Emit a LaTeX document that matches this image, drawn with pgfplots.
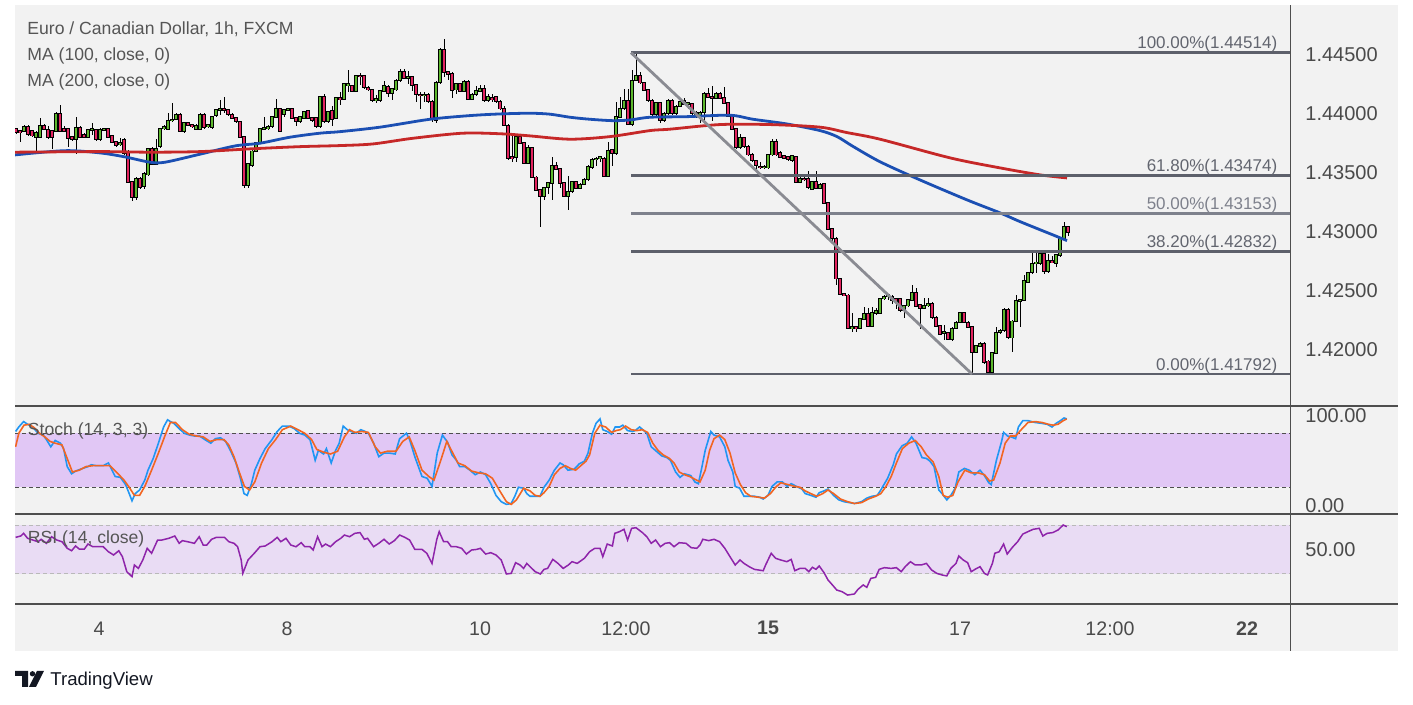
\documentclass[border=0pt]{standalone}
\usepackage{fontspec}
\setmainfont{Liberation Sans}
\usepackage{pgfplots}
\usepackage{pgfplotstable}
\pgfplotsset{compat=1.18}
\definecolor{chartbg}{HTML}{F2F2F2}
\definecolor{sepcol}{HTML}{4E4E4E}
\definecolor{labelgray}{HTML}{4A4A4A}
\definecolor{legendgray}{HTML}{555555}
\definecolor{candleup}{HTML}{5DB82E}
\definecolor{candledn}{HTML}{E2245F}
\definecolor{maone}{HTML}{1B4FB3}
\definecolor{matwo}{HTML}{C62828}
\definecolor{fibdark}{HTML}{5D606B}
\definecolor{fibmid}{HTML}{7E818C}
\definecolor{fibtext}{HTML}{62656F}
\definecolor{diagcol}{HTML}{8A8B92}
\definecolor{stochK}{HTML}{2196F3}
\definecolor{stochD}{HTML}{F26522}
\definecolor{stochband}{HTML}{E1C7F5}
\definecolor{rsiband}{HTML}{E9DCF4}
\definecolor{rsicol}{HTML}{8E24AA}
\definecolor{logocol}{HTML}{131722}

\pgfplotstableread{
i o h l c
0 1.4387 1.4388 1.4383 1.4384
1 1.4385 1.4386 1.4376 1.4384
2 1.4385 1.4390 1.4384 1.4389
3 1.4389 1.4390 1.4381 1.4382
4 1.4385 1.4386 1.4380 1.4381
5 1.4380 1.4385 1.4368 1.4384
6 1.4380 1.4396 1.4379 1.4390
7 1.4390 1.4391 1.4386 1.4387
8 1.4386 1.4389 1.4378 1.4380
9 1.4385 1.4386 1.4370 1.4380
10 1.4385 1.4401 1.4384 1.4400
11 1.4400 1.4407 1.4384 1.4385
12 1.4387 1.4389 1.4384 1.4385
13 1.4387 1.4388 1.4372 1.4379
14 1.4380 1.4381 1.4377 1.4378
15 1.4378 1.4397 1.4366 1.4388
16 1.4388 1.4389 1.4379 1.4380
17 1.4382 1.4383 1.4379 1.4380
18 1.4380 1.4387 1.4379 1.4386
19 1.4386 1.4392 1.4382 1.4387
20 1.4386 1.4387 1.4377 1.4378
21 1.4378 1.4388 1.4377 1.4386
22 1.4386 1.4388 1.4385 1.4387
23 1.4387 1.4388 1.4379 1.4380
24 1.4381 1.4382 1.4375 1.4376
25 1.4376 1.4377 1.4372 1.4373
26 1.4374 1.4379 1.4372 1.4375
27 1.4378 1.4379 1.4365 1.4366
28 1.4368 1.4369 1.4341 1.4342
29 1.4342 1.4343 1.4326 1.4329
30 1.4329 1.4346 1.4327 1.4345
31 1.4345 1.4346 1.4336 1.4337
32 1.4338 1.4350 1.4336 1.4349
33 1.4348 1.4371 1.4347 1.4370
34 1.4370 1.4372 1.4356 1.4357
35 1.4357 1.4378 1.4356 1.4370
36 1.4372 1.4388 1.4371 1.4387
37 1.4387 1.4390 1.4386 1.4389
38 1.4387 1.4400 1.4386 1.4394
39 1.4394 1.4409 1.4393 1.4395
40 1.4395 1.4400 1.4394 1.4399
41 1.4399 1.4400 1.4384 1.4385
42 1.4385 1.4393 1.4383 1.4392
43 1.4392 1.4393 1.4389 1.4390
44 1.4390 1.4391 1.4388 1.4389
45 1.4387 1.4391 1.4386 1.4390
46 1.4387 1.4400 1.4386 1.4399
47 1.4399 1.4400 1.4387 1.4388
48 1.4389 1.4391 1.4388 1.4390
49 1.4388 1.4398 1.4387 1.4397
50 1.4398 1.4404 1.4397 1.4403
51 1.4403 1.4411 1.4399 1.4404
52 1.4404 1.4414 1.4400 1.4403
53 1.4403 1.4404 1.4398 1.4399
54 1.4399 1.4400 1.4395 1.4396
55 1.4396 1.4397 1.4392 1.4393
56 1.4393 1.4394 1.4379 1.4380
57 1.4380 1.4381 1.4337 1.4339
58 1.4339 1.4358 1.4337 1.4357
59 1.4356 1.4369 1.4355 1.4368
60 1.4368 1.4376 1.4367 1.4375
61 1.4375 1.4388 1.4374 1.4387
62 1.4387 1.4397 1.4386 1.4388
63 1.4387 1.4390 1.4386 1.4389
64 1.4389 1.4398 1.4388 1.4397
65 1.4397 1.4412 1.4396 1.4404
66 1.4404 1.4405 1.4384 1.4385
67 1.4399 1.4404 1.4397 1.4403
68 1.4403 1.4405 1.4402 1.4404
69 1.4404 1.4405 1.4395 1.4396
70 1.4396 1.4397 1.4389 1.4393
71 1.4393 1.4398 1.4392 1.4397
72 1.4396 1.4402 1.4395 1.4401
73 1.4402 1.4403 1.4395 1.4396
74 1.4396 1.4397 1.4393 1.4394
75 1.4396 1.4397 1.4388 1.4389
76 1.4389 1.4415 1.4388 1.4414
77 1.4414 1.4416 1.4392 1.4393
78 1.4393 1.4402 1.4392 1.4401
79 1.4402 1.4406 1.4389 1.4395
80 1.4396 1.4414 1.4395 1.4413
81 1.4413 1.4418 1.4407 1.4412
82 1.4412 1.4426 1.4411 1.4425
83 1.4424 1.4437 1.4418 1.4425
84 1.4423 1.4424 1.4418 1.4419
85 1.4419 1.4433 1.4418 1.4432
86 1.4432 1.4434 1.4424 1.4431
87 1.4432 1.4433 1.4421 1.4422
88 1.4422 1.4423 1.4419 1.4420
89 1.4420 1.4421 1.4410 1.4411
90 1.4411 1.4416 1.4409 1.4412
91 1.4411 1.4420 1.4410 1.4419
92 1.4419 1.4427 1.4418 1.4423
93 1.4423 1.4424 1.4414 1.4417
94 1.4417 1.4422 1.4411 1.4421
95 1.4420 1.4429 1.4419 1.4428
96 1.4428 1.4438 1.4427 1.4435
97 1.4435 1.4438 1.4429 1.4430
98 1.4430 1.4436 1.4425 1.4431
99 1.4431 1.4432 1.4419 1.4424
100 1.4424 1.4425 1.4410 1.4416
101 1.4416 1.4418 1.4404 1.4415
102 1.4415 1.4418 1.4410 1.4416
103 1.4416 1.4417 1.4409 1.4410
104 1.4410 1.4411 1.4393 1.4395
105 1.4394 1.4427 1.4392 1.4426
106 1.4426 1.4455 1.4425 1.4454
107 1.4454 1.4463 1.4431 1.4435
108 1.4435 1.4436 1.4428 1.4433
109 1.4434 1.4435 1.4413 1.4420
110 1.4420 1.4426 1.4416 1.4425
111 1.4425 1.4426 1.4418 1.4419
112 1.4419 1.4428 1.4418 1.4427
113 1.4427 1.4428 1.4411 1.4412
114 1.4412 1.4417 1.4411 1.4416
115 1.4416 1.4423 1.4415 1.4419
116 1.4419 1.4424 1.4418 1.4421
117 1.4421 1.4424 1.4410 1.4411
118 1.4411 1.4416 1.4410 1.4414
119 1.4413 1.4416 1.4410 1.4412
120 1.4414 1.4415 1.4409 1.4410
121 1.4410 1.4411 1.4403 1.4404
122 1.4404 1.4406 1.4389 1.4390
123 1.4390 1.4391 1.4361 1.4362
124 1.4363 1.4383 1.4359 1.4362
125 1.4363 1.4381 1.4359 1.4380
126 1.4380 1.4383 1.4374 1.4375
127 1.4375 1.4376 1.4357 1.4358
128 1.4358 1.4373 1.4357 1.4371
129 1.4371 1.4372 1.4345 1.4346
130 1.4346 1.4347 1.4334 1.4335
131 1.4335 1.4336 1.4304 1.4330
132 1.4330 1.4338 1.4327 1.4337
133 1.4337 1.4342 1.4332 1.4341
134 1.4341 1.4363 1.4327 1.4356
135 1.4356 1.4359 1.4352 1.4353
136 1.4353 1.4354 1.4337 1.4341
137 1.4341 1.4342 1.4329 1.4330
138 1.4330 1.4347 1.4318 1.4334
139 1.4334 1.4343 1.4333 1.4342
140 1.4342 1.4343 1.4336 1.4337
141 1.4337 1.4341 1.4336 1.4340
142 1.4340 1.4345 1.4339 1.4344
143 1.4344 1.4356 1.4343 1.4355
144 1.4354 1.4362 1.4353 1.4361
145 1.4361 1.4363 1.4355 1.4362
146 1.4362 1.4364 1.4359 1.4363
147 1.4362 1.4363 1.4346 1.4347
148 1.4347 1.4376 1.4346 1.4368
149 1.4369 1.4370 1.4355 1.4366
150 1.4366 1.4410 1.4365 1.4397
151 1.4397 1.4414 1.4396 1.4404
152 1.4404 1.4421 1.4403 1.4411
153 1.4411 1.4421 1.4390 1.4391
154 1.4391 1.4437 1.4389 1.4428
155 1.4428 1.4451 1.4427 1.4432
156 1.4432 1.4435 1.4425 1.4426
157 1.4426 1.4427 1.4419 1.4420
158 1.4420 1.4421 1.4410 1.4411
159 1.4411 1.4412 1.4398 1.4399
160 1.4399 1.4410 1.4398 1.4409
161 1.4409 1.4410 1.4392 1.4394
162 1.4394 1.4401 1.4393 1.4400
163 1.4400 1.4412 1.4399 1.4411
164 1.4411 1.4412 1.4399 1.4400
165 1.4400 1.4407 1.4399 1.4406
166 1.4406 1.4411 1.4405 1.4410
167 1.4411 1.4413 1.4407 1.4408
168 1.4408 1.4409 1.4404 1.4409
169 1.4408 1.4409 1.4399 1.4400
170 1.4401 1.4402 1.4396 1.4398
171 1.4398 1.4402 1.4392 1.4401
172 1.4401 1.4418 1.4394 1.4417
173 1.4417 1.4422 1.4413 1.4414
174 1.4414 1.4423 1.4394 1.4413
175 1.4413 1.4418 1.4412 1.4417
176 1.4417 1.4418 1.4412 1.4413
177 1.4413 1.4422 1.4408 1.4409
178 1.4409 1.4410 1.4397 1.4398
179 1.4398 1.4399 1.4386 1.4387
180 1.4387 1.4388 1.4370 1.4371
181 1.4371 1.4383 1.4370 1.4379
182 1.4379 1.4380 1.4371 1.4372
183 1.4372 1.4373 1.4364 1.4365
184 1.4365 1.4366 1.4359 1.4360
185 1.4360 1.4361 1.4352 1.4356
186 1.4355 1.4359 1.4353 1.4354
187 1.4354 1.4356 1.4353 1.4355
188 1.4354 1.4366 1.4353 1.4365
189 1.4365 1.4378 1.4364 1.4376
190 1.4376 1.4378 1.4364 1.4365
191 1.4367 1.4368 1.4362 1.4363
192 1.4364 1.4365 1.4361 1.4362
193 1.4363 1.4364 1.4360 1.4361
194 1.4360 1.4365 1.4359 1.4364
195 1.4363 1.4364 1.4341 1.4342
196 1.4342 1.4346 1.4341 1.4345
197 1.4345 1.4346 1.4343 1.4344
198 1.4345 1.4351 1.4336 1.4337
199 1.4336 1.4343 1.4335 1.4342
200 1.4342 1.4351 1.4336 1.4337
201 1.4337 1.4341 1.4336 1.4340
202 1.4340 1.4341 1.4323 1.4324
203 1.4324 1.4325 1.4301 1.4302
204 1.4302 1.4303 1.4292 1.4294
205 1.4294 1.4295 1.4255 1.4260
206 1.4260 1.4261 1.4246 1.4247
207 1.4247 1.4248 1.4245 1.4246
208 1.4246 1.4247 1.4217 1.4218
209 1.4218 1.4231 1.4215 1.4219
210 1.4219 1.4220 1.4215 1.4218
211 1.4218 1.4227 1.4217 1.4226
212 1.4226 1.4236 1.4225 1.4230
213 1.4230 1.4235 1.4219 1.4220
214 1.4220 1.4236 1.4219 1.4231
215 1.4231 1.4235 1.4229 1.4233
216 1.4231 1.4244 1.4230 1.4243
217 1.4243 1.4246 1.4242 1.4245
218 1.4245 1.4247 1.4242 1.4246
219 1.4245 1.4246 1.4239 1.4242
220 1.4243 1.4244 1.4234 1.4241
221 1.4243 1.4244 1.4232 1.4233
222 1.4233 1.4238 1.4227 1.4237
223 1.4237 1.4243 1.4236 1.4242
224 1.4242 1.4255 1.4241 1.4248
225 1.4248 1.4252 1.4236 1.4237
226 1.4238 1.4239 1.4217 1.4235
227 1.4235 1.4244 1.4234 1.4237
228 1.4237 1.4244 1.4236 1.4239
229 1.4239 1.4240 1.4226 1.4227
230 1.4227 1.4228 1.4219 1.4220
231 1.4220 1.4221 1.4212 1.4213
232 1.4214 1.4221 1.4208 1.4215
233 1.4214 1.4215 1.4208 1.4209
234 1.4209 1.4219 1.4207 1.4218
235 1.4218 1.4224 1.4217 1.4223
236 1.4223 1.4232 1.4222 1.4231
237 1.4231 1.4232 1.4222 1.4223
238 1.4223 1.4224 1.4218 1.4219
239 1.4219 1.4220 1.4179 1.4198
240 1.4198 1.4204 1.4197 1.4203
241 1.4203 1.4206 1.4202 1.4205
242 1.4205 1.4206 1.4188 1.4189
243 1.4190 1.4191 1.4179 1.4181
244 1.4181 1.4198 1.4180 1.4197
245 1.4197 1.4219 1.4196 1.4214
246 1.4215 1.4217 1.4213 1.4216
247 1.4216 1.4235 1.4215 1.4234
248 1.4234 1.4235 1.4209 1.4210
249 1.4210 1.4225 1.4198 1.4224
250 1.4224 1.4246 1.4223 1.4241
251 1.4241 1.4243 1.4219 1.4242
252 1.4242 1.4263 1.4241 1.4258
253 1.4257 1.4266 1.4256 1.4265
254 1.4265 1.4283 1.4264 1.4273
255 1.4273 1.4284 1.4265 1.4274
256 1.4273 1.4282 1.4272 1.4281
257 1.4281 1.4284 1.4264 1.4266
258 1.4266 1.4281 1.4265 1.4275
259 1.4275 1.4279 1.4273 1.4274
260 1.4273 1.4281 1.4270 1.4280
261 1.4280 1.4295 1.4278 1.4294
262 1.4294 1.4308 1.4293 1.4304
263 1.4304 1.4305 1.4296 1.4299
}\candles

\begin{document}
\begin{tikzpicture}
\begin{scope}[x=0.5pt,y=0.5pt]
\fill[white] (0,0) rectangle (1413,705);
\fill[chartbg] (15,54) rectangle (1398,700);
\end{scope}

% ---------------- main price pane ----------------
\begin{axis}[
  at={(7.5pt,149.5pt)}, anchor=south west, scale only axis,
  width=637.5pt, height=200.5pt,
  xmin=-0.25, xmax=318.5, ymin=1.41521, ymax=1.44918,
  axis line style={draw=none}, major tick length=0pt,
  xtick=\empty,
  ytick={1.42,1.425,1.43,1.435,1.44,1.445},
  yticklabels={1.42000,1.42500,1.43000,1.43500,1.44000,1.44500},
  yticklabel pos=right,
  yticklabel style={anchor=west, inner sep=0pt, xshift=7.5pt, font=\fontsize{10pt}{12pt}\selectfont, text=labelgray},
  candle/.style={draw=none, mark=none, forget plot, error bars/.cd, y dir=both, y explicit, error mark=none},
]
% wicks
\addplot[candle, error bar style={line width=0.5pt, draw=black, draw opacity=1}]
  table[x=i, y expr={(\thisrow{h}+\thisrow{l})/2}, y error expr={(\thisrow{h}-\thisrow{l})/2}] {\candles};
% body outlines
\addplot[candle, error bar style={line width=1.75pt, draw=black, draw opacity=1}]
  table[x=i, y expr={(\thisrow{o}+\thisrow{c})/2}, y error expr={abs(\thisrow{c}-\thisrow{o})/2+0.00006}] {\candles};
% up bodies
\addplot[draw=none, mark=none, forget plot, x filter/.expression={\thisrow{c}>=\thisrow{o} ? x : nan},
  error bars/.cd, y dir=both, y explicit, error mark=none,
  error bar style={line width=0.75pt, draw=candleup, draw opacity=1}]
  table[x=i, y expr={(\thisrow{o}+\thisrow{c})/2}, y error expr={max(abs(\thisrow{c}-\thisrow{o})/2-0.00002,0)}] {\candles};
% down bodies
\addplot[draw=none, mark=none, forget plot, x filter/.expression={\thisrow{c}<\thisrow{o} ? x : nan},
  error bars/.cd, y dir=both, y explicit, error mark=none,
  error bar style={line width=0.75pt, draw=candledn, draw opacity=1}]
  table[x=i, y expr={(\thisrow{o}+\thisrow{c})/2}, y error expr={max(abs(\thisrow{c}-\thisrow{o})/2-0.00002,0)}] {\candles};

% MA 100
\addplot[smooth, line width=1.4pt, maone] coordinates {
(-0.25,1.43648) (12.25,1.43684) (21,1.43665) (27.25,1.43631) (33.5,1.43586) (37.25,1.43586)
(46,1.43654) (54.75,1.43724) (61,1.43747) (68.5,1.43798) (76,1.43832) (81,1.43845)
(91,1.43883) (103.5,1.43950) (113.5,1.43981) (121,1.43995) (128.5,1.44001) (133.5,1.43993)
(138.5,1.43967) (143.5,1.43950) (149.25,1.43938) (153.5,1.43944) (158.5,1.43967) (167.75,1.43972)
(178.5,1.43984) (184.25,1.43950) (192.75,1.43910) (201,1.43854) (205.25,1.43803) (209.25,1.43720)
(216,1.43590) (226,1.43436) (237.75,1.43267) (246,1.43157) (251,1.43083) (259.25,1.42970) (262.75,1.42922)};
% MA 200
\addplot[smooth, line width=1.4pt, matwo] coordinates {
(-0.25,1.43671) (21,1.43676) (33.5,1.43671) (46,1.43676) (58.5,1.43699) (71,1.43718)
(81,1.43727) (89.25,1.43741) (99.25,1.43789) (111.75,1.43832) (121.75,1.43826) (128.5,1.43809)
(138.5,1.43781) (148.5,1.43803) (158.5,1.43854) (163.5,1.43866) (176,1.43905) (188.5,1.43905)
(201,1.43883) (207.75,1.43837) (216,1.43781) (233.5,1.43623) (246,1.43538) (256,1.43479) (262.75,1.43453)};

% Fibonacci levels
\addplot[fibdark, line width=1.35pt] coordinates {(153.75,1.44514) (318.5,1.44514)};
\addplot[fibdark, line width=1.35pt] coordinates {(153.75,1.43474) (318.5,1.43474)};
\addplot[fibmid, line width=1.35pt] coordinates {(153.75,1.43153) (318.5,1.43153)};
\addplot[fibdark, line width=1.35pt] coordinates {(153.75,1.42832) (318.5,1.42832)};
\addplot[fibdark, line width=1.35pt] coordinates {(153.75,1.41792) (318.5,1.41792)};
\addplot[diagcol, line width=1.4pt] coordinates {(153.75,1.44514) (239,1.41792)};

\begin{scope}[every node/.style={anchor=base east, inner sep=0pt, yshift=1.9pt, font=\fontsize{8.5pt}{10pt}\selectfont, text=fibtext}]
\node at (axis cs:315.4,1.44514) {100.00\%(1.44514)};
\node at (axis cs:315.4,1.43474) {61.80\%(1.43474)};
\node[text=fibmid] at (axis cs:315.4,1.43153) {50.00\%(1.43153)};
\node at (axis cs:315.4,1.42832) {38.20\%(1.42832)};
\node at (axis cs:315.4,1.41792) {0.00\%(1.41792)};
\end{scope}
\end{axis}

% ---------------- stochastic pane ----------------
\begin{axis}[
  at={(7.5pt,95.5pt)}, anchor=south west, scale only axis,
  width=637.5pt, height=54pt,
  xmin=-0.25, xmax=318.5, ymin=-9.67, ymax=110.33,
  axis line style={draw=none}, major tick length=0pt,
  xtick=\empty,
  ytick={0,100}, yticklabels={0.00,100.00},
  yticklabel pos=right,
  yticklabel style={anchor=west, inner sep=0pt, xshift=7.5pt, font=\fontsize{10pt}{12pt}\selectfont, text=labelgray},
]
\addplot[draw=none, fill=stochband] coordinates {(-0.25,20) (318.5,20) (318.5,80) (-0.25,80)} -- cycle;
\addplot[sepcol, line width=0.5pt, dash pattern=on 2pt off 1.5pt] coordinates {(-0.25,80) (318.5,80)};
\addplot[sepcol, line width=0.5pt, dash pattern=on 2pt off 1.5pt] coordinates {(-0.25,20) (318.5,20)};
\addplot[stochK, line width=0.8pt] coordinates {
(-0.1,82) (0.7,87) (1.9,93) (2.9,90) (4.2,87) (5.5,80) (6.8,78) (7.6,73) (8.7,65) (9.8,72) (11.1,69) (11.9,63) (12.8,43) (13.9,35) (14.9,38) (16.7,41) (18.0,43) (18.8,45) (20.1,44) (21.8,44) (23.1,47) (24.0,39) (24.8,32) (26.1,31) (27.4,23) (28.3,13) (29.0,5) (29.8,13) (30.9,17) (32.2,28) (33.0,39) (34.3,52) (35.6,69) (36.9,87) (37.9,95) (38.6,93) (39.5,91) (40.8,85) (42.1,80) (43.4,78) (44.6,77) (45.9,77) (47.2,73) (48.7,69) (49.8,74) (51.1,75) (52.4,71) (53.7,60) (55.0,47) (56.1,30) (57.0,13) (57.8,11) (58.8,23) (59.7,39) (61.0,52) (62.3,63) (64.0,73) (65.3,82) (66.6,88) (68.3,88) (69.6,85) (70.9,80) (72.2,78) (73.5,73) (74.8,50) (75.6,61) (76.9,57) (77.6,63) (78.8,47) (79.9,61) (80.8,69) (81.8,88) (82.8,84) (83.8,82) (85.1,80) (86.2,84) (87.3,82) (88.1,80) (89.4,69) (90.7,54) (92.0,58) (93.3,58) (94.8,57) (95.9,74) (97.6,80) (98.4,73) (99.7,54) (101.5,32) (102.8,30) (104.0,21) (105.3,58) (106.6,78) (107.9,70) (109.0,56) (110.1,50) (110.9,43) (112.2,43) (113.5,39) (114.8,34) (116.1,37) (117.4,34) (118.7,24) (120.0,11) (121.3,4) (122.6,1) (123.8,2) (124.7,10) (125.6,20) (126.9,19) (127.7,13)
(128.5,10) (129.8,10) (131.0,10) (132.0,20) (133.3,28) (134.6,39) (136.0,47) (136.8,45) (138.0,39) (139.5,40) (140.8,46) (142.1,49) (143.0,58) (144.1,80) (145.0,91) (146.0,96) (146.7,84) (147.8,82) (148.9,79) (149.8,87) (150.9,87) (151.7,89) (152.9,83) (154.1,82) (154.8,83) (155.9,87) (156.7,84) (157.7,80) (158.8,65) (160.1,60) (161.4,55) (162.7,53) (163.6,50) (164.9,37) (166.0,31) (167.1,35) (168.7,33) (169.7,26) (170.6,24) (171.5,43) (172.3,61) (173.7,82) (174.5,78) (175.9,76) (177.2,65) (178.0,50) (179.2,37) (179.8,21) (180.9,19) (182.0,10) (183.3,10) (184.6,10) (185.9,9) (186.8,7) (188.0,11) (189.0,21) (190.3,26) (191.6,26) (192.8,21) (193.8,24) (195.1,21) (196.5,18) (197.3,13) (198.7,11) (200.0,9) (200.8,14) (202.0,16) (203.0,18) (204.4,11) (205.7,6) (207.0,4) (208.3,3) (209.6,2) (211.4,4) (212.7,8) (214.0,10) (215.3,11) (216.2,17) (217.9,30) (219.3,45) (220.1,57) (221.5,66) (222.8,69) (223.9,76) (225.0,69) (226.5,53) (227.6,52) (228.5,49) (229.5,43) (230.7,17) (231.5,13) (232.7,6) (233.7,11) (234.8,19) (235.7,37) (237.1,41) (238.3,39) (239.7,34) (241.0,39) (242.1,33) (243.2,25) (243.8,23) (245.1,50) (246.4,71) (246.9,81) (247.9,77) (248.8,76) (249.9,74) (250.6,87) (251.7,94) (253.0,94) (254.8,92) (256.5,91) (257.8,90) (259.0,87) (260.0,91) (261.1,94) (262.0,97) (262.7,96)};
\addplot[stochD, line width=0.8pt] coordinates {
(-0.1,65) (0.7,80) (2.0,89) (3.3,90) (4.6,86) (5.9,80) (7.2,76) (8.5,71) (9.8,69) (11.5,67) (12.8,52) (14.1,37) (15.8,39) (17.5,43) (19.2,44) (21.8,44) (23.5,44) (25.3,36) (27.0,28) (28.3,20) (29.6,11) (30.9,11) (32.2,21) (33.9,39) (35.6,58) (37.3,78) (38.6,92) (39.9,92) (41.6,84) (43.3,79) (45.1,77) (46.8,76) (48.5,71) (50.2,73) (52.0,73) (53.2,67) (54.5,54) (55.8,37) (57.1,21) (58.4,17) (59.7,26) (61.4,47) (63.1,63) (64.9,73) (66.6,84) (68.7,88) (70.5,84) (72.2,80) (73.9,73) (75.2,62) (76.9,59) (78.6,57) (80.4,60) (82.1,76) (83.4,84) (84.7,81) (86.4,82) (88.1,81) (89.8,65) (91.1,58) (92.8,60) (95.0,60) (96.7,71) (98.3,76) (99.7,61) (101.5,39) (103.2,32) (104.5,28) (106.2,50) (107.7,71) (109.2,58) (110.5,47) (112.2,44) (113.9,38) (115.7,36) (117.4,35) (119.1,30) (120.8,17) (122.6,4) (123.8,1) (125.1,6) (126.9,19)
(128.5,16) (129.8,11) (131.0,10) (132.0,14) (133.3,21) (134.6,34) (136.0,41) (137.3,44) (138.6,41) (139.9,39) (141.2,44) (142.5,49) (143.4,56) (144.7,80) (146.0,89) (147.4,87) (148.9,81) (150.0,83) (151.1,84) (152.4,88) (153.8,84) (155.2,83) (156.6,84) (157.9,81) (159.2,69) (160.5,61) (161.8,56) (163.4,52) (164.5,47) (165.8,37) (167.1,34) (168.4,32) (169.7,29) (171.0,26) (172.3,39) (173.4,61) (174.5,74) (175.9,78) (177.2,73) (178.5,58) (179.8,36) (181.1,23) (182.4,14) (183.7,10) (185.5,9) (187.1,8) (188.6,13) (189.9,20) (191.2,25) (193.0,23) (194.7,21) (196.0,20) (197.3,16) (198.7,13) (200.2,10) (201.7,13) (203.0,17) (204.4,13) (206.1,7) (207.9,4) (209.6,2) (211.4,3) (213.1,7) (214.9,10) (216.2,13) (217.5,21) (218.8,32) (220.1,47) (221.6,63) (223.2,69) (224.8,72) (226.3,65) (227.6,56) (229.3,48) (230.7,32) (231.8,11) (232.9,9) (234.2,11) (235.5,26) (237.2,39) (238.8,36) (240.6,36) (242.1,34) (243.4,27) (244.4,28) (246.0,47) (247.3,69) (248.6,77) (249.9,77) (251.3,84) (253.0,92) (254.8,93) (256.5,92) (258.1,90) (259.3,89) (260.5,90) (261.8,94) (262.7,96)};
\end{axis}

% ---------------- RSI pane ----------------
\begin{axis}[
  at={(7.5pt,50.5pt)}, anchor=south west, scale only axis,
  width=637.5pt, height=45pt,
  xmin=-0.25, xmax=318.5, ymin=5.36, ymax=79.28,
  axis line style={draw=none}, major tick length=0pt,
  xtick={20.75,67.75,116,152.5,188,236,273.5,307.75},
  xticklabels={4,8,10,12:00,\textbf{15},17,12:00,\textbf{22}},
  xticklabel style={anchor=center, yshift=-12.15pt, font=\fontsize{9.8pt}{12pt}\selectfont, text=labelgray},
  ytick={50}, yticklabels={50.00},
  yticklabel pos=right,
  yticklabel style={anchor=west, inner sep=0pt, xshift=7.5pt, font=\fontsize{10pt}{12pt}\selectfont, text=labelgray},
]
\addplot[draw=none, fill=rsiband] coordinates {(-0.25,30) (318.5,30) (318.5,70) (-0.25,70)} -- cycle;
\addplot[gray!55, line width=0.5pt, dash pattern=on 2pt off 1.5pt] coordinates {(-0.25,70) (318.5,70)};
\addplot[gray!55, line width=0.5pt, dash pattern=on 2pt off 1.5pt] coordinates {(-0.25,30) (318.5,30)};
\addplot[rsicol, line width=0.75pt] coordinates {
(-0.1,60.1) (1.2,61.2) (1.9,63.4) (2.9,59.3) (4.2,57.9) (5.5,56.5) (6.3,58.5) (7.6,55.2) (8.9,60.6) (10.2,57.9) (11.5,56.5) (12.8,51.1) (13.9,49.1) (14.9,53.0) (15.8,50.5) (17.1,50.5) (18.0,54.6) (19.2,52.4) (20.5,52.4) (21.8,52.4) (23.1,48.3) (24.4,45.6) (25.7,49.1) (26.6,44.2) (27.7,31.9) (29.0,27.8) (29.6,37.4) (30.6,34.6) (31.7,41.5) (32.8,51.1) (33.9,47.0) (35.4,57.9) (36.5,57.9) (38.2,59.3) (39.7,61.2) (40.8,55.2) (41.6,57.4) (42.9,56.5) (44.6,55.2) (45.8,60.6) (46.8,53.8) (47.7,53.8) (48.9,58.5) (50.1,60.1) (51.1,60.1) (52.1,60.1) (53.2,56.5) (54.5,55.2) (55.4,52.4) (56.3,41.5) (56.7,30.5) (58.0,41.5) (59.7,47.5) (61.0,52.4) (62.3,53.0) (64.0,56.5) (65.3,60.1) (66.2,56.5) (67.5,59.3) (68.7,53.8) (70.0,52.4) (71.3,55.7) (72.2,52.4) (73.5,52.4) (74.3,49.7) (75.4,60.6) (76.5,52.4) (77.4,54.6) (78.6,52.4) (79.9,56.5) (81.2,59.3) (82.1,62.0) (83.4,60.6) (84.7,63.4) (86.0,64.0) (87.1,58.5) (87.9,59.3) (89.4,52.4) (90.7,55.2) (92.0,58.5) (93.3,54.6) (94.6,57.4) (95.9,62.0) (97.2,60.1) (98.4,57.9) (99.7,50.2) (101.5,50.2) (102.7,47.0) (104.0,38.7) (105.2,58.5) (105.8,64.8) (106.9,56.5) (107.9,56.5) (108.8,52.4) (110.1,52.4) (111.4,51.1) (112.6,46.4) (113.9,49.7) (115.2,50.2) (116.1,51.1) (117.4,46.4) (118.7,47.5) (120.0,45.6) (121.3,41.5) (122.6,30.0) (123.8,30.5) (124.9,39.3) (126.0,37.4) (126.9,34.6) (127.7,38.7)
(128.5,36.0) (129.8,31.9) (131.1,30.0) (132.0,33.8) (132.9,34.6) (134.2,42.0) (135.5,38.7) (136.8,34.6) (138.1,37.4) (139.0,40.1) (140.3,38.7) (142.1,42.9) (143.4,48.3) (144.7,51.1) (146.0,51.1) (146.7,44.2) (147.8,54.6) (149.1,53.0) (149.7,63.4) (150.9,64.8) (152.0,66.7) (152.9,57.9) (153.9,67.5) (155.0,68.0) (156.6,64.0) (157.7,60.6) (158.8,55.2) (159.9,57.9) (161.1,52.4) (162.3,55.2) (163.4,55.7) (164.5,52.4) (165.8,55.7) (167.5,55.2) (168.8,51.6) (170.2,51.1) (171.0,53.8) (171.7,58.5) (173.2,57.4) (174.5,58.5) (175.9,56.5) (177.2,51.1) (178.5,44.2) (179.8,37.4) (181.0,41.5) (182.0,38.7) (183.3,36.0) (184.6,33.8) (186.8,32.7) (187.4,37.4) (188.8,47.0) (189.9,42.9) (191.2,41.5) (192.7,40.1) (193.8,42.0) (194.7,32.7) (196.0,34.6) (197.3,34.6) (198.2,31.9) (199.1,35.5) (200.0,33.8) (200.8,36.6) (202.0,31.1) (203.0,25.1) (204.1,21.0) (205.2,16.8) (206.5,15.5) (207.9,12.7) (209.6,13.6) (210.5,17.4) (211.8,21.0) (212.7,19.0) (213.7,26.4) (214.9,27.2) (215.8,33.8) (217.1,35.2) (218.8,34.6) (220.1,35.2) (221.3,31.9) (222.3,36.0) (223.6,40.1) (224.8,37.4) (226.3,37.4) (227.6,38.7) (228.9,33.3) (230.2,30.5) (231.5,29.2) (232.7,28.4) (233.7,34.6) (235.0,38.7) (235.7,44.8) (236.8,41.5) (237.9,39.3) (238.8,31.9) (239.9,34.1) (241.0,36.0) (242.1,30.5) (242.9,29.2) (244.1,38.7) (244.7,47.0) (245.8,48.3) (246.9,54.6) (247.8,46.4) (249.1,51.9) (250.4,56.5) (251.7,62.8) (253.0,64.8) (254.3,66.7) (255.8,67.5) (256.7,61.2) (257.8,63.4) (259.2,64.0) (260.5,66.1) (261.8,70.2) (262.7,68.9)};
\end{axis}

% ---------------- frame, legends, logo ----------------
\begin{scope}[x=0.5pt,y=0.5pt]
\draw[sepcol, line width=0.6pt] (15,299) -- (1398,299);
\draw[sepcol, line width=0.6pt] (15,191) -- (1398,191);
\draw[sepcol, line width=0.6pt] (15,101) -- (1398,101);
\draw[sepcol, line width=0.5pt] (1290,54) -- (1290,700);
\begin{scope}[every node/.style={anchor=base west, inner sep=0pt, font=\fontsize{8.8pt}{10pt}\selectfont, text=legendgray}]
\node at (27,670) {Euro / Canadian Dollar, 1h, FXCM};
\node at (27,644) {MA (100, close, 0)};
\node at (27,618) {MA (200, close, 0)};
\node at (27.5,269) {Stoch (14, 3, 3)};
\node at (27.5,161) {RSI (14, close)};
\end{scope}
\fill[logocol] (15,34) -- (28,34) -- (28,18) -- (22,18) -- (22,29) -- (15,29) -- cycle;
\fill[logocol] (32.5,31.2) circle (2.7);
\fill[logocol] (37,34) -- (44,34) -- (36,18) -- (29,18) -- cycle;
\node[anchor=base west, inner sep=0pt, font=\fontsize{9.3pt}{11pt}\selectfont, text=logocol] at (50,19) {TradingView};
\end{scope}
\end{tikzpicture}
\end{document}
